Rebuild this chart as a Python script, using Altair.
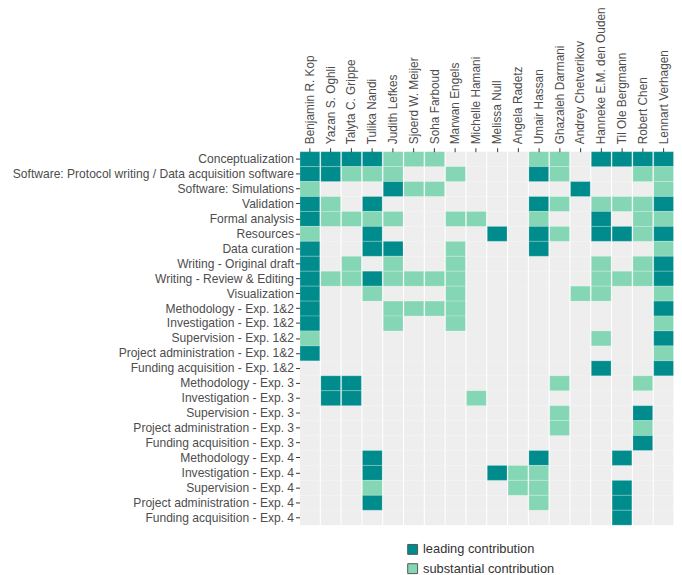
import altair as alt
import pandas as pd

contributors = [
    "Benjamin R. Kop", "Yazan S. Oghli", "Talyta C. Grippe", "Tulika Nandi",
    "Judith Lefkes", "Sjoerd W. Meijer", "Soha Farboud", "Marwan Engels",
    "Michelle Hamani", "Melissa Null", "Angela Radetz", "Umair Hassan",
    "Ghazaleh Darmani", "Andrey Chetverikov", "Hanneke E.M. den Ouden",
    "Til Ole Bergmann", "Robert Chen", "Lennart Verhagen",
]

roles = [
    "Conceptualization",
    "Software: Protocol writing / Data acquisition software",
    "Software: Simulations",
    "Validation",
    "Formal analysis",
    "Resources",
    "Data curation",
    "Writing - Original draft",
    "Writing - Review & Editing",
    "Visualization",
    "Methodology - Exp. 1&2",
    "Investigation - Exp. 1&2",
    "Supervision - Exp. 1&2",
    "Project administration - Exp. 1&2",
    "Funding acquisition - Exp. 1&2",
    "Methodology - Exp. 3",
    "Investigation - Exp. 3",
    "Supervision - Exp. 3",
    "Project administration - Exp. 3",
    "Funding acquisition - Exp. 3",
    "Methodology - Exp. 4",
    "Investigation - Exp. 4",
    "Supervision - Exp. 4",
    "Project administration - Exp. 4",
    "Funding acquisition - Exp. 4",
]

# one code per contributor (same order as `contributors`):
# L = leading contribution, S = substantial contribution, . = none
codes = [
    "LLLLSSS....SS.LLLL",
    "LLSSS..S...LS...SS",
    "S...LSS......L...S",
    "LS.L.......LS.SSSL",
    "LSSSS..SS..S..L.SS",
    "S..L.....L.LS.LLSL",
    "L..LL..S...L.....S",
    "L.S.S..S......S.SL",
    "LSSLSSSS......SSSL",
    "L..S...S.....SS..S",
    "L...SSSS.........L",
    "L...S..S.........S",
    "S.............S..L",
    "L................S",
    "..............L..L",
    ".LL.........S...S.",
    ".LL.....S.........",
    "............S...L.",
    "............S...S.",
    "................L.",
    "...L.......L...L..",
    "...L.....LSS......",
    "...S......SS...L..",
    "...L.......S...L..",
    "...............L..",
]

level_names = {"L": "leading contribution", "S": "substantial contribution", ".": "none"}
level_order = ["leading contribution", "substantial contribution"]
level_colors = ["#008C8C", "#84D6B4"]

rows = []
for role, code in zip(roles, codes):
    for name, c in zip(contributors, code):
        rows.append({"role": role, "person": name, "level": level_names[c]})
df = pd.DataFrame(rows)

FONT = "Liberation Sans"

x_enc = alt.X(
    "person:N", sort=contributors, title=None,
    scale=alt.Scale(paddingInner=0, paddingOuter=0),
    axis=alt.Axis(orient="top", labelAngle=270, labelFontSize=12, labelColor="#4D4D4D",
                  labelFont=FONT, tickSize=4, tickColor="#333333", labelPadding=4,
                  domain=False, grid=False),
)
y_enc = alt.Y(
    "role:N", sort=roles, title=None,
    scale=alt.Scale(paddingInner=0, paddingOuter=0),
    axis=alt.Axis(labelFontSize=12.2, labelColor="#4D4D4D", labelFont=FONT,
                  tickSize=4, tickColor="#333333", labelPadding=2,
                  domain=False, grid=False, labelLimit=400),
)

empty = alt.Chart(df).transform_filter(alt.datum.level == "none").mark_rect(
    width={"band": 0.95}, color="#EEEEEE"
).encode(x=x_enc, y=y_enc)

filled = alt.Chart(df).transform_filter(alt.datum.level != "none").mark_rect(
    width={"band": 0.95}, stroke="white", strokeWidth=0.6, strokeOpacity=0.35
).encode(
    x=x_enc, y=y_enc,
    color=alt.Color(
        "level:N", title=None,
        scale=alt.Scale(domain=level_order, range=level_colors),
        legend=alt.Legend(orient="none", legendX=108, legendY=396, symbolType="square",
                          symbolSize=100, symbolStrokeColor="#555555", symbolStrokeWidth=1,
                          labelFontSize=13, labelColor="#333333", labelFont=FONT,
                          rowPadding=4.5, symbolOffset=0),
    ),
)

chart = alt.layer(empty, filled).properties(
    width=379, height=378,
    autosize=alt.AutoSizeParams(type="none"),
    padding={"left": 295, "top": 142, "right": 0, "bottom": 47},
).configure_view(stroke=None, fill="white")

chart.save("out.html", embed_options={"renderer": "svg", "actions": False})
